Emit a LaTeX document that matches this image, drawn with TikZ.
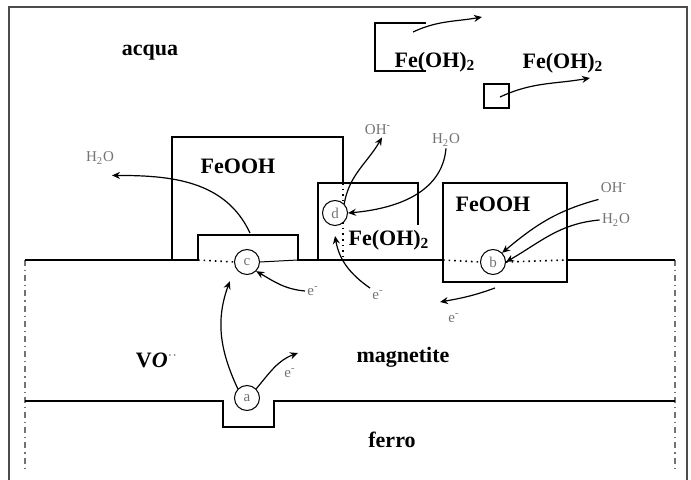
\documentclass[tikz,border=0pt]{standalone}
\usepackage{fontspec}
\setmainfont{Liberation Serif}
\usepackage{xcolor}
\usepackage{tikz}
\usetikzlibrary{arrows.meta}

\definecolor{framegray}{gray}{0.3}
\definecolor{labelgray}{gray}{0.45}

\tikzset{
  wall/.style={line width=1.2pt, line join=miter},
  dotline/.style={line width=0.8pt, dotted},
  edge/.style={line width=0.6pt, dash dot, labelgray},
  arr/.style={line width=0.6pt, -{Stealth[length=4pt,width=3.5pt]}},
  bigtext/.style={font=\bfseries\fontsize{11}{13}\selectfont, inner sep=1pt},
  species/.style={font=\fontsize{7.5}{8}\selectfont, text=labelgray, inner sep=1pt},
  site/.style={circle, draw, line width=0.5pt, minimum size=12.5pt, inner sep=0pt,
    fill=white, font=\fontsize{7.5}{8}\selectfont, text=labelgray}
}

\begin{document}
\begin{tikzpicture}[x=0.5pt,y=-0.5pt]
\useasboundingbox (0,0) rectangle (691,480);

% frame
\draw[framegray, line width=1pt] (9,480) -- (9,7) -- (687,7) -- (687,480);

% layers
\draw[edge] (25,260) -- (25,468);
\draw[edge] (675,260) -- (675,468);
\draw[wall] (25,260) -- (198,260) -- (198,235) -- (298,235) -- (298,260) -- (443,260);
\draw[wall] (567,260) -- (675,260);
\draw[wall] (25,401) -- (223,401) -- (223,427) -- (274,427) -- (274,401) -- (675,401);

% oxide islands
\draw[wall] (172,260) -- (172,137) -- (343,137) -- (343,183);
\draw[dotline] (343,183) -- (343,260);
\draw[wall] (318,260) -- (318,183) -- (418,183) -- (418,225);
\draw[wall] (443,183) rectangle (567,282);
\draw[wall] (426,23) -- (375,23) -- (375,71) -- (426,71);
\draw[wall] (484,84) rectangle (509,108);

% reaction sites
\node[site] (sa) at (247,398) {a};
\node[site] (sb) at (493,262) {b};
\node[site] (sc) at (247,262) {c};
\node[site] (sd) at (335,213) {d};
\draw[dotline] (198,260) -- (sc.west);
\draw[line width=0.5pt] (sc.east) -- (298,260);
\draw[dotline] (443,260) -- (sb.west);
\draw[dotline] (sb.east) -- (567,260);

% phase names
\node[bigtext] (acqua) at (150,53) {acqua};
\node[bigtext] (feoohA) at (238,166) {FeOOH};
\node[bigtext] (feoohB) at (493,204) {FeOOH};
\node[bigtext] (fehA) at (389,240) {Fe(OH)\textsubscript{2}};
\node[bigtext] (fehB) at (435,62) {Fe(OH)\textsubscript{2}};
\node[bigtext] (fehC) at (563,63) {Fe(OH)\textsubscript{2}};
\node[bigtext] (magnetite) at (403,357) {magnetite};
\node[bigtext] (ferro) at (392,440) {ferro};
\node[bigtext] (vo) at (157,360) {V\textit{O}\textmd{\textcolor{labelgray}{$^{\cdot\cdot}$}}};

% species
\node[species] (h2oA) at (100,158) {H\textsubscript{2}O};
\node[species] (ohD) at (378,130) {OH\textsuperscript{-}};
\node[species] (h2oD) at (446,140) {H\textsubscript{2}O};
\node[species] (ohB) at (614,188) {OH\textsuperscript{-}};
\node[species] (h2oB) at (616,220) {H\textsubscript{2}O};
\node[species] (eC) at (313,291) {e\textsuperscript{-}};
\node[species] (eD) at (378,295) {e\textsuperscript{-}};
\node[species] (eB) at (454,318) {e\textsuperscript{-}};
\node[species] (eA) at (290,373) {e\textsuperscript{-}};

% free ends
\coordinate (cTop) at (250,233);
\coordinate (outB) at (413,32);
\coordinate (outC) at (500,97);
\coordinate (tipB) at (482,17);
\coordinate (tipC) at (590,78);
\coordinate (belowB) at (495,288);
\coordinate (tipEB) at (440,302);
\coordinate (tipA) at (298,353);

% arrows
\draw[arr] (cTop) to[out=115,in=0] ([xshift=6pt,yshift=-4.5pt]h2oA.south);
\draw[arr] (sd.north east) to[out=80,in=240] ([xshift=2pt]ohD.south);
\draw[arr] (h2oD.south) to[out=-95,in=5] (sd.east);
\draw[arr] (eD.north west) to[out=145,in=-80] ([yshift=-5pt]sd.south);
\draw[arr] ([yshift=-2pt]ohB.south west) to[out=195,in=40] (sb.north east);
\draw[arr] (h2oB.west) to[out=185,in=30] (sb.east);
\draw[arr] (eC.west) to[out=175,in=-30] (sc.south east);
\draw[arr] (belowB) to[out=-160,in=10] (tipEB);
\draw[arr] (sa.north west) to[out=115,in=-110] ([xshift=-4pt,yshift=-5pt]sc.south west);
\draw[arr] (sa.north east) to[out=50,in=200] (tipA);
\draw[arr] (outB) to[out=25,in=190] (tipB);
\draw[arr] (outC) to[out=25,in=190] (tipC);
\end{tikzpicture}
\end{document}
